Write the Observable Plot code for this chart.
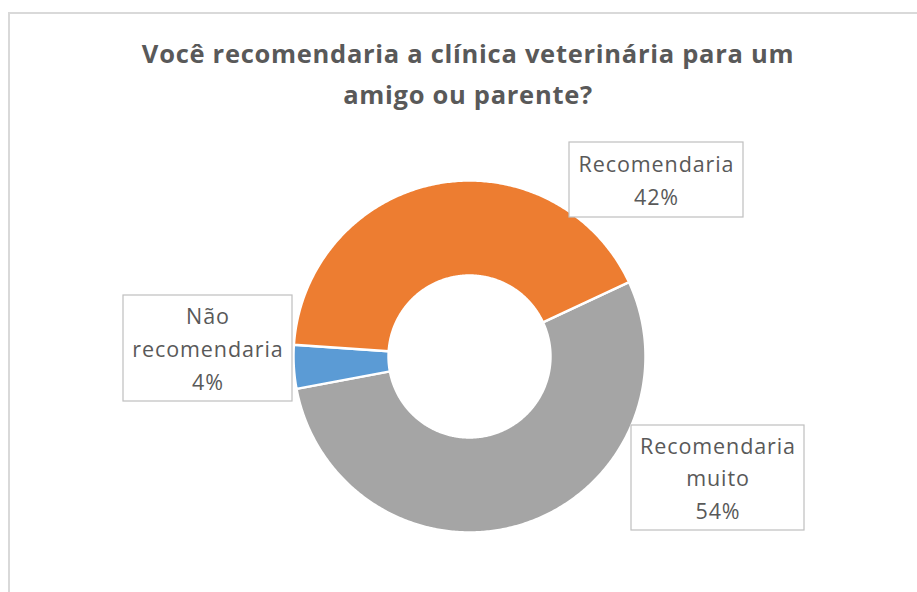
<!DOCTYPE html>
<html>
<head>
<meta charset="utf-8">
<script src="https://cdn.jsdelivr.net/npm/d3@7"></script>
<script src="https://cdn.jsdelivr.net/npm/@observablehq/plot@0.6"></script>
<style>
  html, body { margin: 0; padding: 0; background: #fff; overflow: hidden; }
  #page { position: relative; width: 917px; height: 592px; overflow: hidden; }
  #frame { position: absolute; left: 8px; top: 12px; width: 1000px; height: 1000px;
           border-top: 2px solid #d9d9d9; border-left: 2px solid #d9d9d9; box-sizing: border-box; }
  #title { position: relative; height: 120px; box-sizing: border-box; padding-top: 33px;
           text-align: center; font-family: "Open Sans", sans-serif; font-weight: 700;
           font-size: 25.5px; line-height: 41px; color: #595959; padding-left: 19px;
           letter-spacing: 0.72px; white-space: nowrap; }
  #chart { position: relative; }
  #chart svg { display: block; }
  #chart svg text { letter-spacing: 0.9px; }
</style>
</head>
<body>
<div id="page">
  <div id="frame"></div>
  <div id="title">Você recomendaria a clínica veterinária para um<br>amigo ou parente?</div>
  <div id="chart"></div>
</div>
<script>
// ---- data ----
const categories = ["Recomendaria muito", "Não recomendaria", "Recomendaria"];
const values = [54, 4, 42];
const labelTexts = ["Recomendaria\nmuito\n54%", "Não\nrecomendaria\n4%", "Recomendaria\n42%"];
const colors = ["#A5A5A5", "#5B9BD5", "#ED7D31"];

// ---- layout (pixels) ----
const W = 917, H = 472;
const cx = 469, cy = 236;     // donut centre inside the svg
const Rpx = 176;              // outer radius in px
const holeRatio = 0.46;       // inner / outer radius
const firstSliceDeg = 65;     // rotation of first slice (clockwise from 12 o'clock)
// label boxes: [left, top, right, bottom] in svg pixels
const boxLayout = [
  [631, 305, 804, 410],
  [123, 175, 292, 281],
  [569, 22, 743, 97]
];

// ---- build arc polygons from the data ----
const pie = d3.pie().sort(null).value(d => d)
  .startAngle(firstSliceDeg * Math.PI / 180)
  .endAngle(firstSliceDeg * Math.PI / 180 + 2 * Math.PI);
const arcs = pie(values);
const pts = [];
arcs.forEach((a, i) => {
  const n = Math.max(4, Math.ceil((a.endAngle - a.startAngle) / 0.01));
  for (let k = 0; k <= n; k++) {
    const t = a.startAngle + (a.endAngle - a.startAngle) * k / n;
    pts.push({cat: categories[i], x: Math.sin(t), y: Math.cos(t)});
  }
  for (let k = n; k >= 0; k--) {
    const t = a.startAngle + (a.endAngle - a.startAngle) * k / n;
    pts.push({cat: categories[i], x: holeRatio * Math.sin(t), y: holeRatio * Math.cos(t)});
  }
});

const toX = px => (px - cx) / Rpx;
const toY = py => (cy - py) / Rpx;
const boxes = categories.map((c, i) => {
  const [l, t, r, b] = boxLayout[i];
  return {cat: c, label: labelTexts[i], x1: toX(l), x2: toX(r), y1: toY(b), y2: toY(t),
          xm: toX((l + r) / 2), ym: toY((t + b) / 2)};
});

const plot = Plot.plot({
  width: W, height: H,
  margin: 0,
  x: {domain: [toX(0), toX(W)], axis: null},
  y: {domain: [toY(H), toY(0)], axis: null},
  color: {domain: categories, range: colors},
  style: {background: "transparent"},
  marks: [
    Plot.line(pts, {x: "x", y: "y", z: "cat", fill: "cat", stroke: "white", strokeWidth: 2.5,
                    curve: "linear-closed", strokeLinejoin: "round"}),
    Plot.rect(boxes, {x1: "x1", x2: "x2", y1: "y1", y2: "y2", fill: "white", stroke: "#bfbfbf", strokeWidth: 1.2}),
    Plot.text(boxes, {x: "xm", y: "ym", text: "label", fill: "#595959", fontSize: 21.5, dy: -2,
                      fontFamily: "Open Sans", lineHeight: 1.52, lineAnchor: "middle"})
  ]
});
document.getElementById("chart").appendChild(plot);
</script>
</body>
</html>
